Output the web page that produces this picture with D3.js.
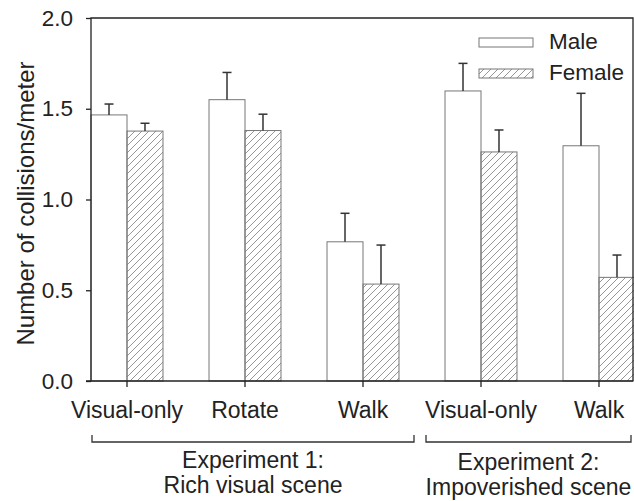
<!DOCTYPE html>
<html>
<head>
<meta charset="utf-8">
<script src="https://cdn.jsdelivr.net/npm/d3@7"></script>
<style>
  body { margin: 0; background: #fff; }
  svg { display: block; font-family: "Liberation Sans", Arial, sans-serif; }
</style>
</head>
<body>
<figure id="bar" style="margin:0"></figure>
<script>
// data
const categories = ['Visual-only', 'Rotate', 'Walk', 'Visual-only', 'Walk'];
const maleMeans = [1.466, 1.55, 0.767, 1.598, 1.296];
const maleErr = [0.06, 0.15, 0.157, 0.152, 0.289];
const femaleMeans = [1.377, 1.38, 0.534, 1.262, 0.571];
const femaleErr = [0.043, 0.09, 0.215, 0.121, 0.123];
const yTicks = [0, 0.5, 1.0, 1.5, 2.0];
const groups = [
  { lines: ['Experiment 1:', 'Rich visual scene'], from: 0, to: 2 },
  { lines: ['Experiment 2:', 'Impoverished scene'], from: 3, to: 4 },
];

const width = 634;
const height = 501;
const plot = { left: 91, right: 633, top: 18, bottom: 381 };

const svg = d3
  .select('figure#bar')
  .append('svg')
  .attr('width', width)
  .attr('height', height);

// diagonal hatch for the female bars
svg
  .append('defs')
  .append('pattern')
  .attr('id', 'hatch')
  .attr('patternUnits', 'userSpaceOnUse')
  .attr('width', 7)
  .attr('height', 7)
  .append('path')
  .attr('d', 'M-1,1 l2,-2 M0,7 l7,-7 M6,8 l2,-2')
  .attr('stroke', '#8a8a8a')
  .attr('stroke-width', 0.9);

const keys = categories.map((c, i) => i);

// band scale: centres at 127 + 118 i
const x = d3.scaleBand().domain(keys).range([68, 68 + 118 * keys.length]).padding(0);
const barW = x.bandwidth() * 0.305;
const cx = (i) => x(i) + x.bandwidth() / 2;

const y = d3.scaleLinear().domain([0, 2]).range([plot.bottom, plot.top]);

const series = [
  { name: 'Male', means: maleMeans, err: maleErr, fill: '#fff', off: -1 },
  { name: 'Female', means: femaleMeans, err: femaleErr, fill: 'url(#hatch)', off: 0 },
];

// bars
series.forEach((s) => {
  svg
    .append('g')
    .selectAll('rect')
    .data(keys)
    .enter()
    .append('rect')
    .attr('x', (i) => cx(i) + s.off * barW)
    .attr('y', (i) => y(s.means[i]))
    .attr('width', barW)
    .attr('height', (i) => y(0) - y(s.means[i]))
    .attr('fill', s.fill)
    .attr('stroke', '#777')
    .attr('stroke-width', 1);

  // upper error bars
  const eb = svg.append('g').attr('stroke', '#333').attr('stroke-width', 1.5);
  keys.forEach((i) => {
    const bx = cx(i) + s.off * barW + barW / 2;
    eb.append('line')
      .attr('x1', bx).attr('x2', bx)
      .attr('y1', y(s.means[i])).attr('y2', y(s.means[i] + s.err[i]));
    eb.append('line')
      .attr('x1', bx - 4.5).attr('x2', bx + 4.5)
      .attr('y1', y(s.means[i] + s.err[i])).attr('y2', y(s.means[i] + s.err[i]));
  });
});

// frame: top, right, left axis, bottom axis
svg
  .append('path')
  .attr('d', `M${plot.left},${plot.bottom}V${plot.top}H${plot.right}V${plot.bottom}`)
  .attr('fill', 'none')
  .attr('stroke', '#222')
  .attr('stroke-width', 1.3);

// Y axis
const yAxis = svg
  .append('g')
  .attr('transform', `translate(${plot.left},0)`)
  .call(d3.axisLeft(y).tickValues(yTicks).tickFormat(d3.format('.1f')).tickSize(5).tickPadding(13));
yAxis.select('.domain').remove();
yAxis.selectAll('line').attr('stroke', '#222').attr('stroke-width', 1.3);
yAxis.selectAll('text').attr('font-size', 22.5).attr('fill', '#222').attr('font-family', null);

// X axis
const xAxis = svg
  .append('g')
  .attr('transform', `translate(0,${plot.bottom})`)
  .call(d3.axisBottom(x).tickFormat((i) => categories[i]).tickSize(6).tickPadding(15));
xAxis.select('.domain').remove();
xAxis.selectAll('line').attr('stroke', '#222').attr('stroke-width', 1.3);
xAxis.selectAll('text').attr('font-size', 23).attr('fill', '#222').attr('font-family', null);
svg
  .append('line')
  .attr('x1', plot.left - 5)
  .attr('x2', plot.right)
  .attr('y1', plot.bottom)
  .attr('y2', plot.bottom)
  .attr('stroke', '#222')
  .attr('stroke-width', 1.3);

// Y axis title
svg
  .append('text')
  .attr('transform', `translate(34,${(plot.top + plot.bottom) / 2 + 4}) rotate(-90)`)
  .attr('text-anchor', 'middle')
  .attr('font-size', 24)
  .attr('fill', '#222')
  .text('Number of collisions/meter');

// experiment brackets
const bracketX = [
  [92, 414],
  [426, 631],
];
groups.forEach((g, k) => {
  const [x0, x1] = bracketX[k];
  const top = 468 + k * 2;
  svg
    .append('path')
    .attr('d', `M${x0},435V442H${x1}V435`)
    .attr('fill', 'none')
    .attr('stroke', '#333')
    .attr('stroke-width', 1.3);
  g.lines.forEach((ln, j) => {
    svg
      .append('text')
      .attr('text-anchor', 'middle')
      .attr('font-size', 23)
      .attr('fill', '#222')
      .attr('x', (x0 + x1) / 2)
      .attr('y', top + j * 25)
      .text(ln);
  });
});

// legend
const legend = svg.append('g');
series.forEach((s, k) => {
  const ly = 38 + k * 31;
  legend
    .append('rect')
    .attr('x', 479)
    .attr('y', ly)
    .attr('width', 54)
    .attr('height', 9)
    .attr('fill', s.fill)
    .attr('stroke', '#777');
  legend
    .append('text')
    .attr('x', 549)
    .attr('y', ly + 11)
    .attr('font-size', 22.5)
    .attr('fill', '#222')
    .text(s.name);
});
</script>
</body>
</html>
